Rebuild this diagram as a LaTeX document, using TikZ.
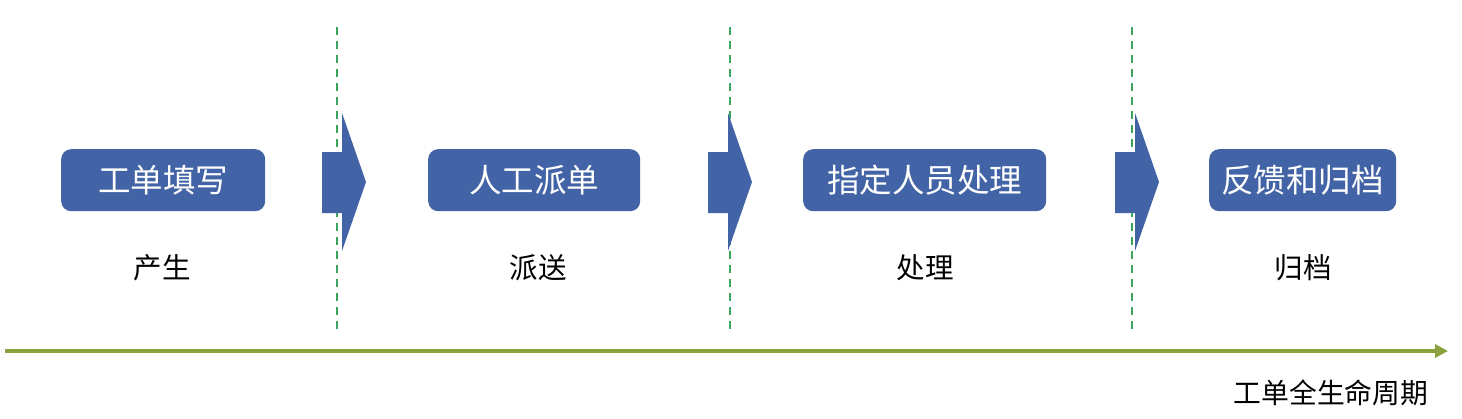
\documentclass[tikz,border=0pt]{standalone}
\usepackage{fontspec}
\setmainfont{Noto Sans CJK SC}
\usetikzlibrary{arrows.meta}
\definecolor{boxblue}{RGB}{66,99,165}
\definecolor{dashgreen}{RGB}{59,165,93}
\definecolor{olive}{RGB}{137,160,60}
\tikzset{
  stagebox/.style={fill=boxblue, draw=none, rounded corners=10pt, text=white, font=\fontsize{32.5}{36}\selectfont, inner sep=0pt, anchor=north west},
  stagelabel/.style={font=\fontsize{28.5}{32}\selectfont, text=black, inner sep=0pt},
  divider/.style={draw=dashgreen, line width=2pt, dash pattern=on 8pt off 6pt},
  stagearrow/.style={fill=boxblue, draw=none},
}
\begin{document}
\begin{tikzpicture}[x=1pt,y=-1pt]
\useasboundingbox (0,0) rectangle (1462,418);
% dividers
\foreach \n/\x in {d1/337, d2/730, d3/1132}{
  \coordinate (\n t) at (\x,27);
  \coordinate (\n b) at (\x,329);
  \draw[divider] (\n t) -- (\n b);
}
% boxes
\node[stagebox, minimum width=204pt, minimum height=62pt] (b1) at (61,149) {工单填写};
\node[stagebox, minimum width=212pt, minimum height=62pt] (b2) at (428,149) {人工派单};
\node[stagebox, minimum width=243pt, minimum height=62pt] (b3) at (803,149) {指定人员处理};
\node[stagebox, minimum width=187pt, minimum height=62pt] (b4) at (1209,149) {反馈和归档};
% arrows
\foreach \x in {322, 708, 1115}{
  \fill[stagearrow] (\x,152) -- (\x+20,152) -- (\x+20,113) -- (\x+44,182) -- (\x+20,251) -- (\x+20,213) -- (\x,213) -- cycle;
}
% labels
\node[stagelabel] (l1) at (162,268) {产生};
\node[stagelabel] (l2) at (538,268) {派送};
\node[stagelabel] (l3) at (925,268) {处理};
\node[stagelabel] (l4) at (1303,268) {归档};
% timeline
\coordinate (ts) at (5,351);
\coordinate (te) at (1448,351);
\draw[olive, line width=3.5pt, -{Triangle[length=13pt,width=13pt]}] (ts) -- (te);
\node[font=\fontsize{27.8}{32}\selectfont, inner sep=0pt] (tl) at (1331,393) {工单全生命周期};
\end{tikzpicture}
\end{document}
